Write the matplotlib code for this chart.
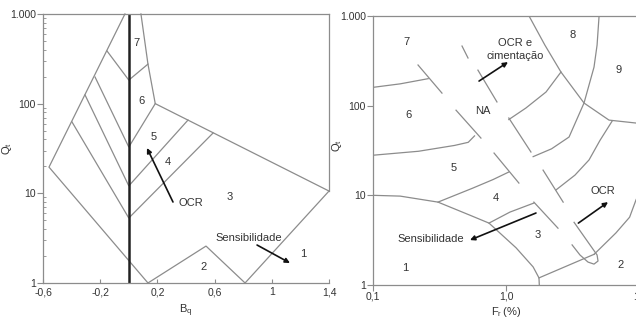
import matplotlib
matplotlib.use('Agg')
import matplotlib.pyplot as plt
from matplotlib.ticker import FixedLocator, NullLocator, LogLocator, NullFormatter

plt.rcParams['font.family'] = ['Liberation Sans', 'DejaVu Sans']

# --- dados do grafico da esquerda: Q_t x B_q
bq_ticks = [-0.6, -0.2, 0.2, 0.6, 1.0, 1.4]
bq_labels = ['-0,6', '-0,2', '0,2', '0,6', '1', '1,4']
q_ticks = [1, 10, 100, 1000]
q_labels = ['1', '10', '100', '1.000']

# contorno
bq_left_x = [-0.027, -0.558, 0.134]
bq_left_y = [1000, 19.6, 1]
bq_top_x = [0.085, 0.134, 0.185, 1.4]
bq_top_y = [1000, 276, 100, 10.6]
bq_bot_x = [0.134, 0.540, 0.813, 1.4]
bq_bot_y = [1, 2.58, 1, 10.6]
bq_edge_x = [1.4, 1.4]
bq_edge_y = [10.6, 1000]

# limites das zonas (esquerda -> Bq=0 -> direita)
bq_z76_x = [-0.152, 0.0, 0.134]
bq_z76_y = [386, 183, 276]
bq_z65_x = [-0.236, 0.0, 0.185]
bq_z65_y = [198, 32.8, 100]
bq_z54_x = [-0.306, 0.0, 0.414]
bq_z54_y = [125, 12.1, 65.6]
bq_z43_x = [-0.397, 0.0, 0.589]
bq_z43_y = [62.4, 5.3, 47]

bq_zone_txt = ['7', '6', '5', '4', '3', '2', '1']
bq_zone_x = [0.057, 0.092, 0.176, 0.274, 0.708, 0.526, 1.218]
bq_zone_y = [474, 107, 42.4, 22.3, 9.1, 1.51, 2.1]

# --- dados do grafico da direita: Q_t x F_r
fr_ticks = [0.1, 1.0, 10]
fr_labels = ['0,1', '1,0', '10']

fr_z1_x = [0.1, 0.16, 0.308, 0.536, 0.745, 1.19, 1.6, 1.77, 1.78]
fr_z1_y = [10, 9.8, 8.4, 6.0, 4.9, 2.6, 1.59, 1.2, 1.0]
fr_z32_x = [1.77, 4.6]
fr_z32_y = [1.2, 2.2]
fr_z2_x = [4.6, 6.7, 8.5, 9.5, 10.5]
fr_z2_y = [2.2, 3.8, 5.7, 8.9, 12]

fr_z76_x = [0.1, 0.16, 0.26]
fr_z76_y = [160, 175, 200]
fr_z65_x = [0.1, 0.22, 0.41, 0.52, 0.58]
fr_z65_y = [28, 31, 36, 39, 46]
fr_z54_x = [0.308, 0.56, 0.8, 1.05]
fr_z54_y = [8.4, 12, 15, 18.2]
fr_z43_x = [0.745, 1.07, 1.62]
fr_z43_y = [4.9, 6.5, 8.2]

fr_r1_x = [1.49, 1.96, 2.59, 3.86, 5.95, 9.49, 10.5]
fr_r1_y = [1000, 474, 237, 107, 69, 64, 64]
fr_r2_x = [5.01, 4.84, 4.59, 3.86, 2.98, 2.2, 1.6]
fr_r2_y = [1000, 474, 269, 107, 44.7, 33, 27]
fr_r3_x = [2.59, 2.0, 1.41, 1.05]
fr_r3_y = [237, 142, 94, 70]
fr_r4_x = [6.27, 5.09, 4.21, 3.3, 2.38]
fr_r4_y = [67, 41, 24.8, 16.8, 11.5]

# faixa NA (tracos)
na_left_x = [[0.218, 0.330], [0.421, 0.648], [0.813, 1.25], [1.62, 2.46]]
na_left_y = [[284, 138], [89, 43.5], [29.6, 13.7], [8.4, 4.3]]
na_right_x = [[0.467, 0.518], [0.615, 0.855], [1.05, 1.54], [1.90, 2.69]]
na_right_y = [[462, 340], [249, 110], [72.8, 30.4], [19.1, 8.4]]
na_end_x = [3.25, 4.28, 4.84, 4.92, 4.59, 4.14, 3.6, 3.14]
na_end_y = [5.0, 2.8, 2.16, 1.85, 1.71, 1.8, 2.16, 2.8]

fr_zone_txt = ['7', '6', 'NA', '5', '4', '3', '1', '2', '8', '9']
fr_zone_x = [0.177, 0.186, 0.671, 0.406, 0.841, 1.74, 0.174, 7.33, 3.19, 7.08]
fr_zone_y = [512, 78.6, 87, 20.2, 9.3, 3.6, 1.55, 1.67, 612, 249]

# --- figura
cl = '#8c8c8c'
ct = '#333333'
lw = 0.9
fs = 8

fig = plt.figure(figsize=(6.36, 3.19), dpi=100)
ax1 = fig.add_axes([0.0676, 0.1129, 0.4497, 0.8433])
ax2 = fig.add_axes([0.5865, 0.1066, 0.4182, 0.8433])

# grafico esquerdo
for xs, ys in [(bq_left_x, bq_left_y), (bq_top_x, bq_top_y), (bq_bot_x, bq_bot_y),
               (bq_edge_x, bq_edge_y), (bq_z76_x, bq_z76_y), (bq_z65_x, bq_z65_y),
               (bq_z54_x, bq_z54_y), (bq_z43_x, bq_z43_y)]:
    ax1.plot(xs, ys, c=cl, lw=lw, solid_joinstyle='miter', clip_on=False)
ax1.plot([0, 0], [1, 1000], c='#222222', lw=1.8)

for t, x, y in zip(bq_zone_txt, bq_zone_x, bq_zone_y):
    ax1.text(x, y, t, fontsize=fs, color=ct, ha='center', va='center')

ax1.annotate('', xy=(0.127, 32.0), xytext=(0.309, 8.0),
             arrowprops=dict(arrowstyle='-|>', lw=1.2, color='#111111', mutation_scale=7,
                             shrinkA=0, shrinkB=0))
ax1.text(0.351, 7.8, 'OCR', fontsize=fs, color=ct, ha='left', va='center')
ax1.annotate('', xy=(1.127, 1.67), xytext=(0.897, 2.65),
             arrowprops=dict(arrowstyle='-|>', lw=1.2, color='#111111', mutation_scale=7,
                             shrinkA=0, shrinkB=0))
ax1.text(0.841, 3.18, 'Sensibilidade', fontsize=fs, color=ct, ha='center', va='center')

ax1.set_yscale('log')
ax1.set_xlim(-0.6, 1.4)
ax1.set_ylim(1, 1000)
ax1.xaxis.set_major_locator(FixedLocator(bq_ticks))
ax1.set_xticklabels(bq_labels)
ax1.yaxis.set_major_locator(FixedLocator(q_ticks))
ax1.set_yticklabels(q_labels)
ax1.yaxis.set_minor_locator(LogLocator(base=10, subs=range(2, 10)))
ax1.yaxis.set_minor_formatter(NullFormatter())
ax1.tick_params(axis='x', direction='in', length=3, color=cl, labelsize=7.5,
                labelcolor=ct, pad=3)
ax1.tick_params(axis='y', which='major', direction='out', length=4, color=cl,
                labelsize=7.5, labelcolor=ct, pad=1)
ax1.tick_params(axis='y', which='minor', direction='in', length=2, color=cl)
ax1.spines['right'].set_visible(False)
for s in ['left', 'bottom', 'top']:
    ax1.spines[s].set_color(cl)
    ax1.spines[s].set_linewidth(lw)
ax1.set_xlabel(r'$\mathregular{B_q}$', fontsize=8, color=ct, labelpad=4)
ax1.set_ylabel(r'$\mathregular{Q_t}$', fontsize=8, color=ct)
ax1.yaxis.set_label_coords(-0.1, 0.5)

# grafico direito
for xs, ys in [(fr_z1_x, fr_z1_y), (fr_z32_x, fr_z32_y), (fr_z2_x, fr_z2_y),
               (fr_z76_x, fr_z76_y), (fr_z65_x, fr_z65_y), (fr_z54_x, fr_z54_y),
               (fr_z43_x, fr_z43_y), (fr_r1_x, fr_r1_y), (fr_r2_x, fr_r2_y),
               (fr_r3_x, fr_r3_y), (fr_r4_x, fr_r4_y), (na_end_x, na_end_y)]:
    ax2.plot(xs, ys, c=cl, lw=lw)
for xs, ys in zip(na_left_x + na_right_x, na_left_y + na_right_y):
    ax2.plot(xs, ys, c=cl, lw=lw)

for t, x, y in zip(fr_zone_txt, fr_zone_x, fr_zone_y):
    ax2.text(x, y, t, fontsize=fs, color=ct, ha='center', va='center')

ax2.annotate('', xy=(1.035, 306), xytext=(0.627, 188),
             arrowprops=dict(arrowstyle='-|>', lw=1.2, color='#111111', mutation_scale=7,
                             shrinkA=0, shrinkB=0))
ax2.text(1.17, 499, 'OCR e', fontsize=fs, color=ct, ha='center', va='center')
ax2.text(1.17, 357, 'cimentação', fontsize=fs, color=ct, ha='center', va='center')
ax2.annotate('', xy=(0.536, 3.17), xytext=(1.68, 6.35),
             arrowprops=dict(arrowstyle='-|>', lw=1.2, color='#111111', mutation_scale=7,
                             shrinkA=0, shrinkB=0))
ax2.text(0.273, 3.26, 'Sensibilidade', fontsize=fs, color=ct, ha='center', va='center')
ax2.annotate('', xy=(5.85, 8.4), xytext=(3.5, 4.9),
             arrowprops=dict(arrowstyle='-|>', lw=1.2, color='#111111', mutation_scale=7,
                             shrinkA=0, shrinkB=0))
ax2.text(5.36, 11.2, 'OCR', fontsize=fs, color=ct, ha='center', va='center')

ax2.set_xscale('log')
ax2.set_yscale('log')
ax2.set_xlim(0.1, 10)
ax2.set_ylim(1, 1000)
ax2.xaxis.set_major_locator(FixedLocator(fr_ticks))
ax2.set_xticklabels(fr_labels)
ax2.xaxis.set_minor_locator(NullLocator())
ax2.yaxis.set_major_locator(FixedLocator(q_ticks))
ax2.set_yticklabels(q_labels)
ax2.yaxis.set_minor_locator(NullLocator())
ax2.tick_params(direction='out', length=4, color=cl, labelsize=7.5, labelcolor=ct, pad=1)
ax2.spines['right'].set_visible(False)
for s in ['left', 'bottom', 'top']:
    ax2.spines[s].set_color(cl)
    ax2.spines[s].set_linewidth(lw)
ax2.set_xlabel(r'$\mathregular{F_r\,(\%)}$', fontsize=8, color=ct, labelpad=2)
ax2.set_ylabel(r'$\mathregular{Q_t}$', fontsize=8, color=ct)
ax2.yaxis.set_label_coords(-0.11, 0.52)

fig.savefig('out.png', dpi=100)
